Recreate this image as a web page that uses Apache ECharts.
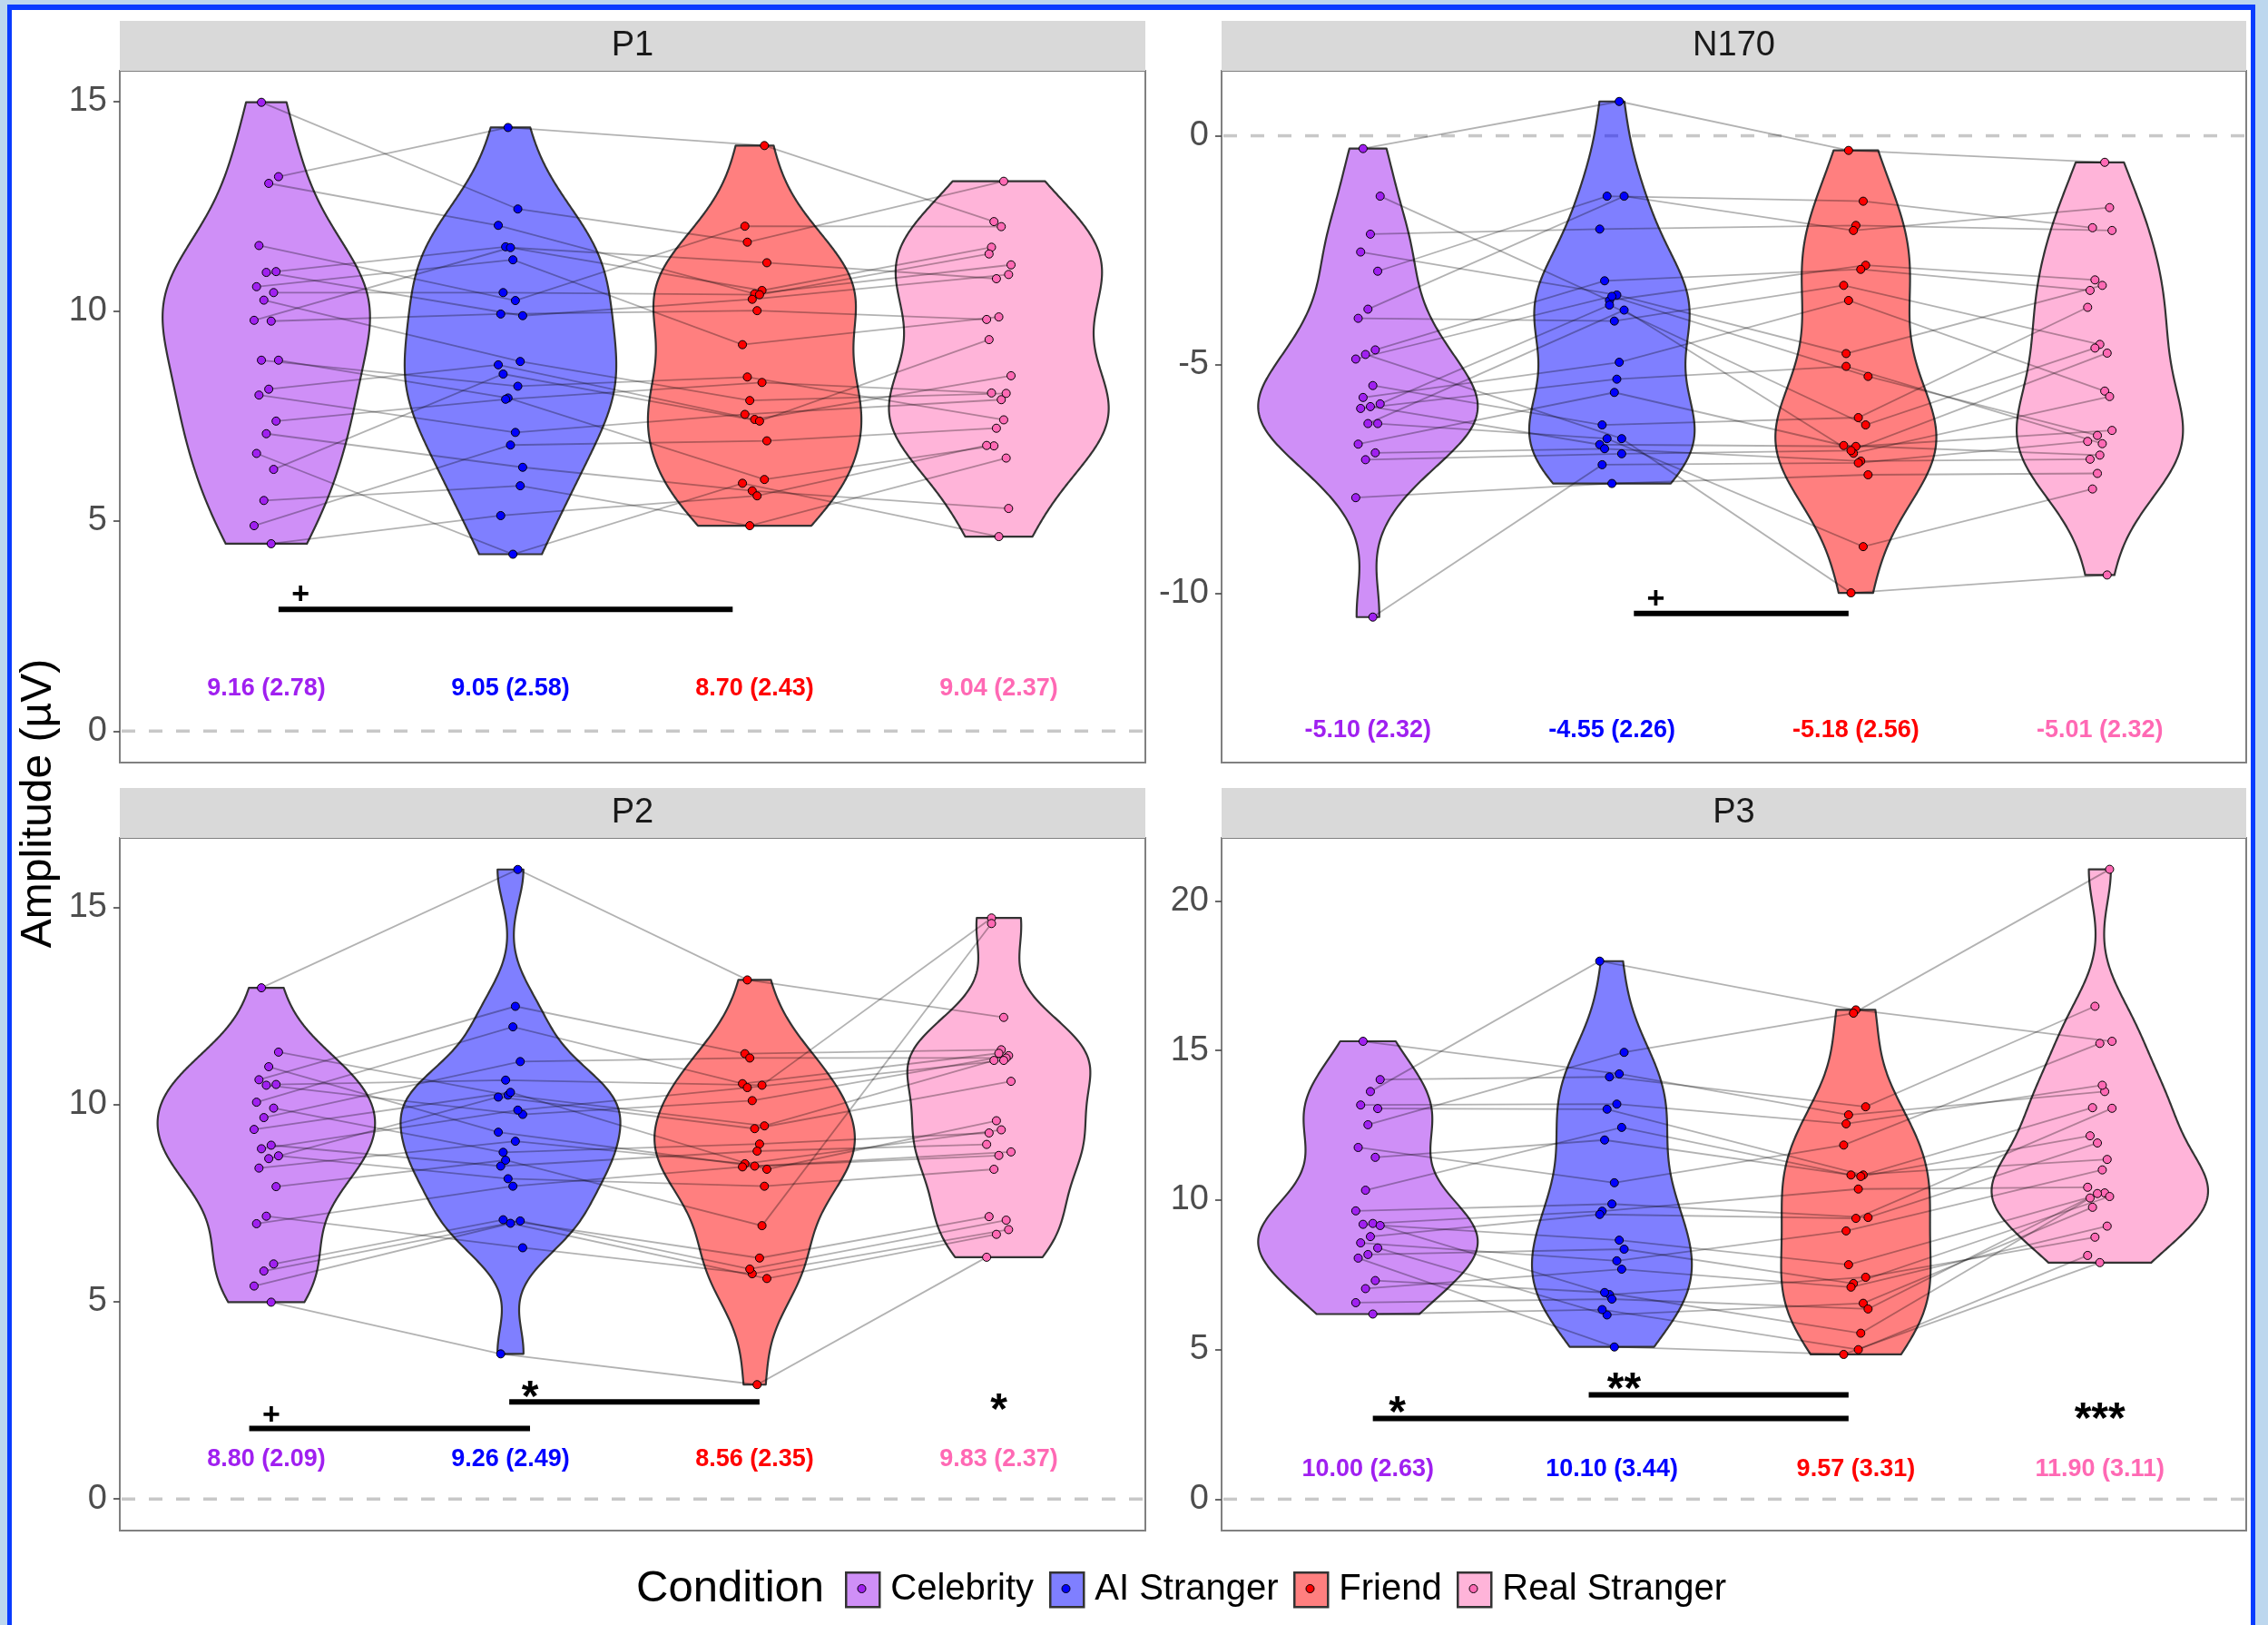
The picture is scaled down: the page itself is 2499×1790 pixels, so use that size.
<!DOCTYPE html>
<html>
<head>
<meta charset="utf-8">
<script src="https://cdn.jsdelivr.net/npm/echarts@6/dist/echarts.min.js"></script>
<style>
html,body{margin:0;padding:0;width:2499px;height:1790px;overflow:hidden;background:#bdd7ee;}
#frame{position:absolute;left:8px;top:5px;width:2477px;height:1800px;box-sizing:border-box;border:5px solid #0a3cff;border-top-width:6px;background:#ffffff;}
#chart{position:absolute;left:0;top:0;width:2499px;height:1790px;}
</style>
</head>
<body>
<div id="frame"></div>
<div id="chart"></div>
<script>
// ---------------- DATA ----------------
const CONDITIONS = ['Celebrity', 'AI Stranger', 'Friend', 'Real Stranger'];
const PANEL_TITLES = ['P1', 'N170', 'P2', 'P3'];

// per-subject amplitudes (same index = same subject)
const p1_celebrity = [14.97, 13.20, 13.04, 11.56, 10.94, 10.92, 10.58, 10.44, 10.26, 9.78, 9.76, 8.83, 8.83, 8.14, 8.00, 7.38, 7.08, 6.61, 6.23, 5.49, 4.89, 4.46];
const p1_ai_stranger = [12.43, 14.37, 12.04, 10.25, 11.53, 9.89, 11.22, 10.44, 8.80, 11.51, 9.93, 8.21, 7.93, 8.72, 7.11, 7.90, 6.28, 4.21, 8.50, 5.84, 6.81, 5.13];
const p1_friend = [11.64, 13.94, 10.41, 12.02, 10.49, 10.28, 9.20, 10.39, 7.87, 11.15, 10.01, 8.43, 5.99, 7.42, 7.54, 8.30, 5.72, 5.90, 7.38, 4.89, 6.91, 5.60];
const p1_real_stranger = [13.09, 12.13, 11.10, 12.01, 11.52, 10.87, 9.86, 11.36, 8.04, 10.77, 9.80, 7.41, 6.79, 8.46, 7.89, 8.05, 5.30, 4.63, 9.32, 6.50, 7.21, 6.80];

const n170_celebrity = [-0.28, -1.32, -2.15, -2.54, -2.96, -3.79, -3.99, -4.68, -4.78, -4.88, -5.46, -5.72, -5.86, -5.92, -5.96, -6.29, -6.29, -6.74, -6.93, -7.08, -7.91, -10.52];
const n170_ai_stranger = [0.75, -3.60, -2.04, -3.48, -1.32, -1.32, -4.05, -3.17, -6.62, -3.51, -6.32, -4.95, -3.70, -6.75, -5.32, -6.62, -3.81, -5.61, -6.84, -6.95, -7.60, -7.19];
const n170_friend = [-0.32, -2.83, -1.96, -4.76, -1.43, -2.07, -3.27, -2.92, -9.99, -5.26, -6.16, -3.60, -6.32, -6.79, -5.04, -8.98, -6.94, -6.77, -7.11, -6.88, -7.41, -7.15];
const n170_real_stranger = [-0.58, -3.15, -2.07, -3.27, -2.01, -1.57, -4.56, -3.38, -9.60, -6.55, -3.75, -5.58, -4.64, -6.44, -6.73, -7.72, -5.70, -6.98, -7.07, -4.75, -7.38, -6.68];

const p2_celebrity = [12.96, 11.33, 10.96, 10.63, 10.51, 10.49, 10.06, 9.91, 9.67, 9.37, 8.97, 8.88, 8.70, 8.63, 8.39, 7.92, 7.17, 6.98, 5.96, 5.78, 5.40, 4.99];
const p2_ai_stranger = [15.96, 10.24, 9.30, 12.49, 10.62, 9.75, 11.97, 8.79, 11.09, 10.31, 8.44, 9.86, 8.12, 10.19, 9.07, 8.59, 6.37, 7.93, 7.08, 7.05, 6.99, 3.68];
const p2_friend = [13.16, 9.46, 8.44, 11.29, 10.49, 10.10, 10.53, 9.00, 11.18, 8.36, 8.82, 10.43, 7.93, 9.39, 8.50, 6.93, 5.71, 8.42, 6.11, 5.83, 5.59, 2.90];
const p2_real_stranger = [12.21, 11.12, 8.80, 11.39, 14.73, 11.24, 11.30, 9.28, 11.18, 9.59, 8.99, 11.12, 8.36, 10.59, 9.36, 14.59, 6.83, 8.71, 7.16, 7.07, 6.71, 6.13];

const p3_celebrity = [15.31, 14.03, 13.63, 13.18, 13.06, 12.52, 11.76, 11.43, 10.33, 9.64, 9.22, 9.19, 9.15, 8.78, 8.57, 8.40, 8.18, 8.06, 7.31, 7.04, 6.57, 6.19];
const p3_ai_stranger = [14.22, 14.12, 17.99, 13.21, 13.04, 14.94, 10.58, 12.01, 12.43, 9.87, 9.63, 8.66, 6.84, 9.52, 7.97, 6.16, 8.36, 5.09, 6.91, 7.69, 6.69, 6.34];
const p3_friend = [12.85, 13.12, 16.36, 12.55, 10.84, 16.25, 11.84, 10.79, 10.84, 9.42, 10.37, 7.84, 7.42, 9.39, 8.97, 6.55, 7.21, 4.84, 5.55, 7.09, 6.36, 5.00];
const p3_real_stranger = [13.63, 16.48, 15.31, 13.84, 13.09, 21.06, 15.24, 12.15, 11.36, 11.91, 10.43, 10.24, 8.76, 13.07, 11.01, 9.76, 10.12, 7.91, 10.07, 9.13, 10.22, 8.15];

// mean (SD) annotations
const p1_means = [9.16, 9.05, 8.70, 9.04];     const p1_sds = [2.78, 2.58, 2.43, 2.37];
const n170_means = [-5.10, -4.55, -5.18, -5.01]; const n170_sds = [2.32, 2.26, 2.56, 2.32];
const p2_means = [8.80, 9.26, 8.56, 9.83];     const p2_sds = [2.09, 2.49, 2.35, 2.37];
const p3_means = [10.00, 10.10, 9.57, 11.90];  const p3_sds = [2.63, 3.44, 3.31, 3.11];
const label_y = [1.0, -13.0, 1.0, 1.0];

// y tick labels
const p1_ticks = [0, 5, 10, 15];
const n170_ticks = [-10, -5, 0];
const p2_ticks = [0, 5, 10, 15];
const p3_ticks = [0, 5, 10, 15, 20];

// significance brackets: [xStart, xEnd, y]  and labels: [text, x, y]
const p1_sig_bars = [[1.05, 2.91, 2.9]];
const p1_sig_labels = [['+', 1.14, 3.23]];
const n170_sig_bars = [[2.09, 2.97, -10.44]];
const n170_sig_labels = [['+', 2.18, -10.14]];
const p2_sig_bars = [[0.93, 2.08, 1.79], [1.995, 3.02, 2.46]];
const p2_sig_labels = [['+', 1.02, 2.10], ['*', 2.08, 2.80], ['*', 4.0, 2.48]];
const p3_sig_bars = [[1.02, 2.97, 2.7], [1.905, 2.97, 3.49]];
const p3_sig_labels = [['*', 1.12, 3.18], ['**', 2.05, 3.98], ['***', 4.0, 2.95]];

// ---------------- LAYOUT / STYLE ----------------
const FONT = '"Liberation Sans", Arial, Helvetica, sans-serif';
const DOT = ['#a020f0', '#0000ff', '#ff0000', '#ff69b4'];
const FILL = ['rgba(160,32,240,0.5)', 'rgba(0,0,255,0.5)', 'rgba(255,0,0,0.5)', 'rgba(255,105,180,0.5)'];
const TXT = ['#a020f0', '#0000ff', '#ff0000', '#ff69b4'];
const GRIDS = [
  {left: 132, top: 78, width: 1130, height: 762},
  {left: 1346, top: 78, width: 1129, height: 762},
  {left: 132, top: 923, width: 1130, height: 763},
  {left: 1346, top: 923, width: 1129, height: 763}
];
const YRANGE = [[-0.75, 15.72], [-13.70, 1.42], [-0.80, 16.76], [-1.05, 22.11]];
const STRIP_H = 55;

const PANELS = [
  {vals: [p1_celebrity, p1_ai_stranger, p1_friend, p1_real_stranger], means: p1_means, sds: p1_sds, ticks: p1_ticks, bars: p1_sig_bars, sig: p1_sig_labels},
  {vals: [n170_celebrity, n170_ai_stranger, n170_friend, n170_real_stranger], means: n170_means, sds: n170_sds, ticks: n170_ticks, bars: n170_sig_bars, sig: n170_sig_labels},
  {vals: [p2_celebrity, p2_ai_stranger, p2_friend, p2_real_stranger], means: p2_means, sds: p2_sds, ticks: p2_ticks, bars: p2_sig_bars, sig: p2_sig_labels},
  {vals: [p3_celebrity, p3_ai_stranger, p3_friend, p3_real_stranger], means: p3_means, sds: p3_sds, ticks: p3_ticks, bars: p3_sig_bars, sig: p3_sig_labels}
];

// deterministic small horizontal jitter (category units)
function jit(i, c) { return ((((i * 7 + c * 5 + 3) % 11) - 5) * 0.01); }

// ---------------- KDE (ggplot-like violin, trimmed, area scaling) ----------------
function sdev(a) { const m = a.reduce((s, v) => s + v, 0) / a.length; return Math.sqrt(a.reduce((s, v) => s + (v - m) * (v - m), 0) / (a.length - 1)); }
function q7(s, p) { const h = (s.length - 1) * p, lo = Math.floor(h), hi = Math.min(lo + 1, s.length - 1); return s[lo] + (h - lo) * (s[hi] - s[lo]); }
function density(a) {
  const s = a.slice().sort((x, y) => x - y), n = s.length;
  const iqr = q7(s, 0.75) - q7(s, 0.25);
  let lo = Math.min(sdev(a), iqr / 1.34);
  if (!(lo > 0)) lo = sdev(a) || 1;
  const bw = 0.9 * lo * Math.pow(n, -0.2);
  const N = 300, ys = [], ds = [];
  for (let k = 0; k < N; k++) {
    const y = s[0] + (s[n - 1] - s[0]) * k / (N - 1);
    let d = 0;
    for (const v of s) { const z = (y - v) / bw; d += Math.exp(-0.5 * z * z); }
    ys.push(y); ds.push(d / (n * bw * Math.sqrt(2 * Math.PI)));
  }
  return {ys, ds};
}

const series = [];
const xAxis = [], yAxis = [], grid = [];
const graphic = [];

PANELS.forEach((P, g) => {
  grid.push(Object.assign({show: true, borderColor: '#808080', borderWidth: 2, backgroundColor: 'rgba(0,0,0,0)', containLabel: false, outerBoundsMode: 'none'}, GRIDS[g]));
  xAxis.push({type: 'value', gridIndex: g, min: 0.4, max: 4.6, show: false});
  yAxis.push({
    type: 'value', gridIndex: g, min: YRANGE[g][0], max: YRANGE[g][1],
    axisLine: {show: false}, splitLine: {show: false},
    axisTick: {show: true, length: 7, lineStyle: {color: '#444', width: 1.6}, customValues: P.ticks},
    axisLabel: {customValues: P.ticks, fontSize: 38, color: '#4d4d4d', margin: 14, fontFamily: FONT}
  });

  // strip
  graphic.push({type: 'rect', shape: {x: GRIDS[g].left, y: GRIDS[g].top - STRIP_H, width: GRIDS[g].width, height: STRIP_H}, style: {fill: '#d9d9d9'}, z: 0});
  graphic.push({type: 'text', x: GRIDS[g].left + GRIDS[g].width / 2, y: GRIDS[g].top - STRIP_H / 2, style: {text: PANEL_TITLES[g], fontSize: 38, fill: '#1a1a1a', fontFamily: FONT, align: 'center', verticalAlign: 'middle'}, z: 1});

  // zero dashed line
  series.push({
    type: 'custom', xAxisIndex: g, yAxisIndex: g, z: 1, silent: true, clip: false,
    data: [[0.4, 0]],
    renderItem: (params, api) => {
      const a = api.coord([0.4, 0]), b = api.coord([4.6, 0]);
      return {type: 'line', shape: {x1: a[0] + 2, y1: a[1], x2: b[0] - 2, y2: b[1]}, style: {stroke: '#c8c8c8', lineWidth: 3.5, lineDash: [15, 15]}};
    }
  });

  // violins
  const dens = P.vals.map(density);
  const maxD = Math.max(...dens.map(d => Math.max(...d.ds)));
  P.vals.forEach((vals, c) => {
    const D = dens[c];
    series.push({
      type: 'custom', name: CONDITIONS[c], xAxisIndex: g, yAxisIndex: g, z: 2, silent: true, clip: false,
      data: [[c + 1, vals[0]]],
      renderItem: (params, api) => {
        const cx = api.value(0);
        const pts = [];
        for (let k = 0; k < D.ys.length; k++) pts.push(api.coord([cx - 0.45 * D.ds[k] / maxD, D.ys[k]]));
        for (let k = D.ys.length - 1; k >= 0; k--) pts.push(api.coord([cx + 0.45 * D.ds[k] / maxD, D.ys[k]]));
        return {type: 'polygon', shape: {points: pts}, style: {fill: FILL[c], stroke: '#333333', lineWidth: 2.2, lineJoin: 'round'}};
      }
    });
  });

  // subject lines
  const rows = P.vals[0].map((_, i) => [P.vals[0][i], P.vals[1][i], P.vals[2][i], P.vals[3][i], i]);
  series.push({
    type: 'custom', xAxisIndex: g, yAxisIndex: g, z: 3, silent: true, clip: false,
    data: rows,
    renderItem: (params, api) => {
      const i = api.value(4);
      const pts = [0, 1, 2, 3].map(c => api.coord([c + 1 + jit(i, c), api.value(c)]));
      return {type: 'polyline', shape: {points: pts}, style: {stroke: 'rgba(0,0,0,0.3)', lineWidth: 1.8, fill: null}};
    }
  });

  // points
  P.vals.forEach((vals, c) => {
    series.push({
      type: 'scatter', name: CONDITIONS[c], xAxisIndex: g, yAxisIndex: g, z: 4, silent: true,
      symbol: 'circle', symbolSize: 9,
      itemStyle: {color: DOT[c], borderColor: '#000', borderWidth: 1, opacity: 1},
      data: vals.map((v, i) => [c + 1 + jit(i, c), v])
    });
  });

  // mean (SD) labels
  series.push({
    type: 'custom', xAxisIndex: g, yAxisIndex: g, z: 5, silent: true, clip: false,
    data: P.means.map((m, c) => [c + 1, label_y[g], m, P.sds[c], c]),
    renderItem: (params, api) => {
      const p = api.coord([api.value(0), api.value(1)]);
      const c = api.value(4);
      return {type: 'text', x: p[0], y: p[1], style: {text: api.value(2).toFixed(2) + ' (' + api.value(3).toFixed(2) + ')', fill: TXT[c], fontSize: 27, fontWeight: 'bold', fontFamily: FONT, align: 'center', verticalAlign: 'middle'}};
    }
  });

  // significance bars
  series.push({
    type: 'custom', xAxisIndex: g, yAxisIndex: g, z: 5, silent: true, clip: false,
    data: P.bars,
    renderItem: (params, api) => {
      const a = api.coord([api.value(0), api.value(2)]), b = api.coord([api.value(1), api.value(2)]);
      return {type: 'line', shape: {x1: a[0], y1: a[1], x2: b[0], y2: b[1]}, style: {stroke: '#000', lineWidth: 6, lineCap: 'butt'}};
    }
  });

  // significance labels
  series.push({
    type: 'custom', xAxisIndex: g, yAxisIndex: g, z: 5, silent: true, clip: false,
    data: P.sig.map(s => [s[1], s[2], s[0]]),
    dimensions: ['x', 'y', {name: 't', type: 'ordinal'}],
    renderItem: (params, api) => {
      const s = P.sig[params.dataIndex];
      const p = api.coord([s[1], s[2]]);
      const isPlus = s[0] === '+';
      const fs = isPlus ? 34 : 48;
      const dy = isPlus ? 0 : 0.23 * fs;
      return {type: 'text', x: p[0], y: p[1] + dy, style: {text: s[0], fill: '#000', fontSize: fs, fontWeight: 'bold', fontFamily: FONT, align: 'center', verticalAlign: 'middle'}};
    }
  });
});

// y-axis title
graphic.push({type: 'text', x: 43, y: 885, rotation: Math.PI / 2, style: {text: 'Amplitude (µV)', fontSize: 48, fill: '#000', fontFamily: FONT, align: 'center', verticalAlign: 'middle'}});

// legend title + key dots
const LEG_Y = 1750;
const KEY_X = [931, 1156, 1425, 1605];
graphic.push({type: 'text', x: 701, y: LEG_Y, style: {text: 'Condition', fontSize: 49, fill: '#000', fontFamily: FONT, align: 'left', verticalAlign: 'middle'}});
KEY_X.forEach((x, c) => {
  graphic.push({type: 'circle', shape: {cx: x + 18.5, cy: LEG_Y, r: 4.5}, style: {fill: DOT[c], stroke: '#000', lineWidth: 1}, z: 100});
});

const legend = CONDITIONS.map((name, c) => ({
  data: [{name: name, icon: 'rect', itemStyle: {color: FILL[c], borderColor: '#333', borderWidth: 2.5}}],
  left: KEY_X[c], top: LEG_Y - 19, padding: 0, itemWidth: 37, itemHeight: 38, selectedMode: false,
  textStyle: {fontSize: 40, color: '#000', fontFamily: FONT, lineHeight: 38, padding: [0, 0, 0, 7]}
}));

const chart = echarts.init(document.getElementById('chart'), null, {renderer: 'canvas', width: 2499, height: 1790});
chart.setOption({
  animation: false,
  backgroundColor: 'transparent',
  grid, xAxis, yAxis, series, legend, graphic,
  tooltip: {show: false}
});
</script>
</body>
</html>
